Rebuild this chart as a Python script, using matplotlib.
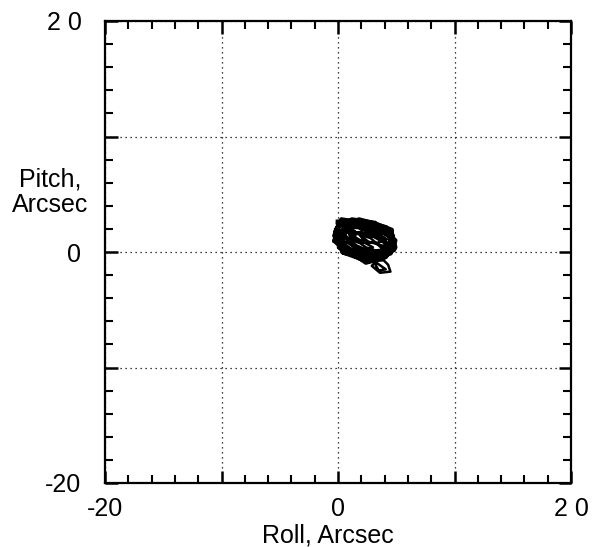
import matplotlib
matplotlib.use("Agg")
import matplotlib.pyplot as plt
from matplotlib.ticker import FixedLocator, MultipleLocator

plt.rcParams['font.family'] = ['Liberation Sans', 'DejaVu Sans']

roll = [0.0, 2.5, 4.3, 4.8, 3.5, 0.6, -0.3, 1.5, 4.6, 4.9, 3.8, 0.5, -0.2, 0.3, 2.8, 4.7, 4.2, 2.0,
        0.1, 0.6, 3.0, 4.4, 4.8, 3.2, 1.0, -0.3, 0.2, 2.2, 4.0, 4.7, 4.5, 2.6, 0.4, 0.0, 1.2, 3.5,
        4.9, 4.1, 2.4, 0.7, -0.1, 0.4, 2.0, 3.8, 4.4, 3.0, 1.5, 0.3, 1.8, 3.3, 4.6, 4.5, 2.9, 3.6,
        4.5, 4.3, 3.9, 2.4, 1.1, 0.2, 0.8, 2.6, 4.1, 3.6, 2.4, 1.0, 0.6, 2.4, 4.2, 4.8, 4.0, 2.6,
        1.3, 0.0, -0.4, 0.5, 2.1, 3.4, 4.1, 3.5, 3.1, 4.3, 4.9, 4.6, 3.2, 1.2, 0.1, 1.6, 3.0, 1.9,
        0.7, 1.5, 3.2, 3.9, 2.3, 0.9, 1.8, 3.4, 4.2, 3.0, 1.4, 0.2, 1.3, 2.7, 3.9, 2.8, 1.9, 2.2]
pitch = [2.6, 2.5, 1.8, 0.8, -0.3, 0.1, 1.0, 2.7, 1.6, 0.4, -0.6, -0.05, 1.8, 2.8, 2.4, 1.2, -0.2, -0.6,
         0.4, 2.2, 2.3, 1.5, 0.2, -0.5, 0.2, 1.4, 2.6, 2.6, 2.0, 0.9, -0.1, -0.8, 0.0, 1.2, 2.2, 2.1,
         1.0, -0.4, -0.9, 0.3, 2.0, 2.7, 2.1, 1.2, 0.3, -0.2, 0.5, 1.6, 2.8, 2.4, 1.9, 0.6, -1.2, -1.8,
         -1.7, -1.1, -0.7, -0.9, 0.0, 0.8, 1.8, 1.6, 0.7, 0.0, 0.4, 1.4, 2.5, 2.7, 2.2, 1.4, 0.5, 0.9,
         1.9, 2.3, 0.9, 0.6, -0.2, -1.0, -1.5, -1.6, -0.9, -0.2, 0.6, 1.5, 2.6, 2.9, 2.5, 1.2, 0.4, 0.0,
         0.9, 1.7, 1.3, 1.6, 2.0, 1.1, 0.8, 0.8, 1.1, 1.9, 2.5, 1.9, 0.6, 0.1, 0.2, 1.2, 1.5, 1.0]

major_ticks = [-20, -10, 0, 10, 20]
x_tick_labels = ["-20", "", "0", "", "2 0"]
y_tick_labels = ["-20", "", "0", "", "2 0"]

fig = plt.figure(figsize=(5.96, 5.47), dpi=100)
ax = fig.add_axes([105/596, 1 - 483/547, (571 - 105)/596, (483 - 21)/547])

ax.plot(roll[:52], pitch[:52], color='black', linewidth=3.5, solid_joinstyle='round')
ax.plot(roll[51:], pitch[51:], color='black', linewidth=1.8, solid_joinstyle='round')

ax.set_xlim(-20, 20)
ax.set_ylim(-20, 20)
ax.xaxis.set_major_locator(FixedLocator(major_ticks))
ax.yaxis.set_major_locator(FixedLocator(major_ticks))
ax.set_xticklabels(x_tick_labels)
ax.set_yticklabels(y_tick_labels)
ax.xaxis.set_minor_locator(MultipleLocator(2))
ax.yaxis.set_minor_locator(MultipleLocator(2))

ax.tick_params(which='both', direction='in', top=True, right=True, color='black', labelsize=18)
ax.tick_params(which='major', length=9, width=1.8)
ax.tick_params(which='minor', length=6, width=1.5)
ax.tick_params(axis='y', which='major', pad=17)
ax.tick_params(axis='x', which='major', pad=10)

for s in ax.spines.values():
    s.set_linewidth(1.6)
    s.set_color('black')

ax.grid(True, which='major', linestyle=(0, (1, 3)), color='black', linewidth=0.9)

fig.text(50/596, 1 - 192/547, "Pitch,\nArcsec", ha='center', va='center',
         fontsize=18, multialignment='center', linespacing=1.1)
fig.text(328/596, 1 - 535/547, "Roll, Arcsec", ha='center', va='center', fontsize=18)

fig.savefig("out.png", dpi=100, facecolor='white')
